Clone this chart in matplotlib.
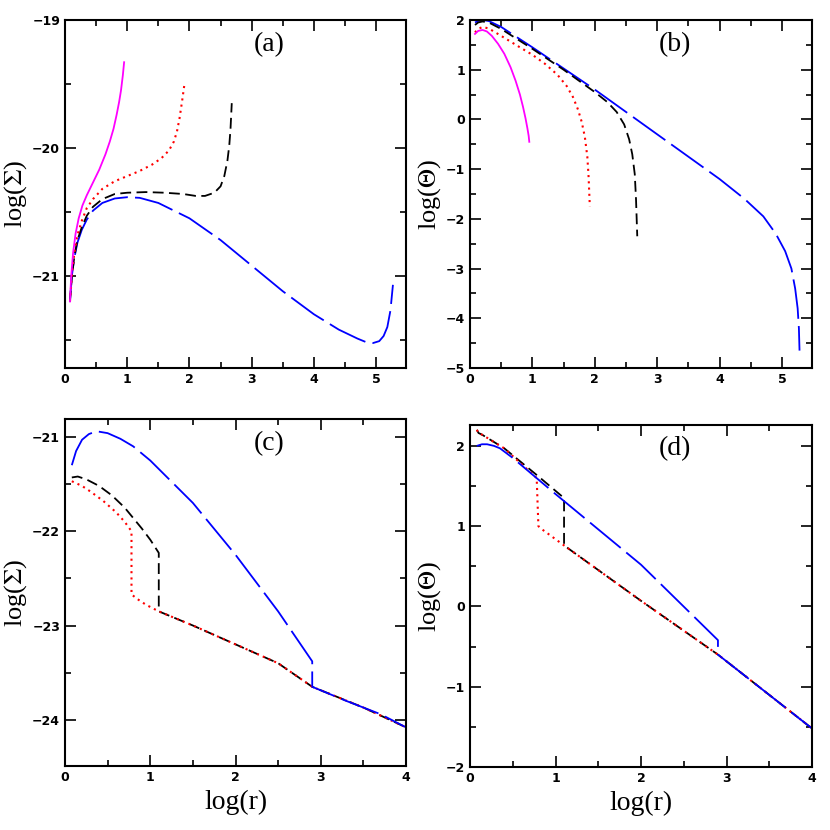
import matplotlib
matplotlib.use("Agg")
import matplotlib.pyplot as plt
from matplotlib.ticker import MultipleLocator

plt.rcParams["mathtext.fontset"] = "stix"

# Panel (a)
a_mag_x = [0.08,0.1,0.13,0.17,0.22,0.28,0.35,0.45,0.55,0.65,0.72,0.78,0.83,0.87,0.9,0.93,0.95]
a_mag_y = [-21.2,-21.0,-20.82,-20.67,-20.55,-20.45,-20.37,-20.27,-20.17,-20.05,-19.95,-19.85,-19.74,-19.64,-19.55,-19.43,-19.33]
a_red_x = [0.08,0.11,0.15,0.2,0.27,0.35,0.45,0.6,0.8,1.0,1.2,1.4,1.55,1.67,1.75,1.8,1.84,1.88,1.92]
a_red_y = [-21.2,-21.0,-20.82,-20.68,-20.57,-20.47,-20.4,-20.32,-20.26,-20.22,-20.18,-20.13,-20.08,-20.02,-19.95,-19.87,-19.77,-19.64,-19.5]
a_blk_x = [0.08,0.11,0.15,0.2,0.27,0.35,0.45,0.6,0.8,1.0,1.3,1.6,1.9,2.1,2.25,2.4,2.5,2.56,2.61,2.64,2.66,2.68]
a_blk_y = [-21.2,-21.0,-20.85,-20.72,-20.62,-20.53,-20.46,-20.4,-20.36,-20.35,-20.345,-20.35,-20.36,-20.375,-20.375,-20.35,-20.3,-20.22,-20.1,-19.98,-19.85,-19.65]
a_blu_x = [0.08,0.11,0.15,0.2,0.27,0.35,0.45,0.6,0.8,1.0,1.2,1.5,2,2.5,3,3.5,4,4.4,4.7,4.85,4.95,5.05,5.12,5.18,5.23,5.27]
a_blu_y = [-21.2,-21.0,-20.86,-20.74,-20.64,-20.56,-20.49,-20.43,-20.395,-20.385,-20.39,-20.43,-20.55,-20.72,-20.92,-21.12,-21.3,-21.42,-21.49,-21.52,-21.525,-21.51,-21.47,-21.4,-21.27,-21.07]

# Panel (b)
b_mag_x = [0.08,0.13,0.2,0.27,0.35,0.45,0.55,0.65,0.73,0.8,0.85,0.89,0.92,0.94,0.95]
b_mag_y = [1.72,1.78,1.8,1.77,1.68,1.52,1.32,1.05,0.78,0.5,0.25,0.02,-0.18,-0.33,-0.45]
b_red_x = [0.08,0.13,0.2,0.3,0.5,0.8,1.0,1.2,1.4,1.55,1.65,1.73,1.79,1.84,1.88,1.9,1.92]
b_red_y = [1.75,1.82,1.86,1.83,1.68,1.45,1.3,1.12,0.9,0.67,0.45,0.2,-0.05,-0.35,-0.75,-1.15,-1.75]
b_blk_x = [0.08,0.13,0.2,0.3,0.5,1.0,1.5,2.0,2.2,2.35,2.47,2.55,2.6,2.64,2.66,2.68]
b_blk_y = [1.9,1.95,1.97,1.95,1.82,1.42,1.0,0.55,0.35,0.15,-0.1,-0.4,-0.7,-1.1,-1.6,-2.35]
b_blu_x = [0.08,0.13,0.2,0.3,0.5,1,2,3,4,4.4,4.7,4.9,5.05,5.15,5.21,5.25,5.27,5.28]
b_blu_y = [1.95,1.98,2.0,1.98,1.86,1.45,0.6,-0.3,-1.2,-1.6,-1.95,-2.3,-2.65,-3.0,-3.4,-3.8,-4.2,-4.65]

# Panel (c)
c_blu_x = [0.08,0.13,0.2,0.28,0.37,0.5,0.65,0.8,1.0,1.5,2,2.5,2.9,2.9,3.3,3.7,4.0]
c_blu_y = [-21.3,-21.15,-21.03,-20.97,-20.94,-20.96,-21.02,-21.1,-21.25,-21.7,-22.25,-22.85,-23.38,-23.65,-23.8,-23.94,-24.08]
c_blk_x = [0.08,0.15,0.25,0.4,0.55,0.7,0.8,0.9,1.0,1.1,1.1,1.5,2,2.5,2.9,3.5,4.0]
c_blk_y = [-21.43,-21.42,-21.45,-21.52,-21.62,-21.75,-21.86,-21.97,-22.09,-22.23,-22.85,-23.0,-23.2,-23.4,-23.65,-23.87,-24.08]
c_red_x = [0.08,0.2,0.3,0.45,0.6,0.7,0.78,0.78,0.85,0.95,1.1,1.5,2,2.5,2.9,3.5,4.0]
c_red_y = [-21.47,-21.52,-21.58,-21.68,-21.8,-21.9,-22.0,-22.67,-22.72,-22.78,-22.85,-23.0,-23.2,-23.4,-23.65,-23.87,-24.08]

# Panel (d)
d_blu_x = [0.08,0.14,0.2,0.28,0.35,0.5,1,2,2.9,2.9,4.0]
d_blu_y = [2.0,2.02,2.02,2.0,1.97,1.85,1.4,0.52,-0.42,-0.6,-1.52]
d_blk_x = [0.08,0.1,0.14,0.4,0.8,1.1,1.1,2,2.9,4.0]
d_blk_y = [2.2,2.16,2.14,1.97,1.62,1.35,0.76,0.07,-0.6,-1.52]
d_red_x = [0.08,0.1,0.14,0.4,0.78,0.8,0.83,1.1,2,2.9,4.0]
d_red_y = [2.2,2.16,2.14,1.97,1.6,1.0,0.97,0.76,0.07,-0.6,-1.52]

fig = plt.figure(figsize=(8.3, 8.3), dpi=100)
W, H = 830.0, 830.0
def mk(l, r, t, b):
    return fig.add_axes([l/W, 1-b/H, (r-l)/W, (b-t)/H])
axa = mk(65, 406, 20, 368)
axb = mk(470, 812, 20, 368)
axc = mk(65, 406, 419, 766)
axd = mk(470, 812, 425, 767)

serif = "Liberation Serif"
mag_kw = dict(color="#ff00ff", lw=1.3, ls="-")
red_kw = dict(color="red", lw=1.5, ls=(0, (1, 2)))
blk_kw = dict(color="black", lw=1.3, ls=(0, (6, 3)))
blu_kw = dict(color="blue", lw=1.3, ls=(0, (22, 4)))

axa.plot(a_blu_x, a_blu_y, **blu_kw)
axa.plot(a_blk_x, a_blk_y, **blk_kw)
axa.plot(a_red_x, a_red_y, **red_kw)
axa.plot(a_mag_x, a_mag_y, **mag_kw)
axb.plot(b_blu_x, b_blu_y, **blu_kw)
axb.plot(b_blk_x, b_blk_y, **blk_kw)
axb.plot(b_red_x, b_red_y, **red_kw)
axb.plot(b_mag_x, b_mag_y, **mag_kw)
axc.plot(c_blk_x, c_blk_y, **blk_kw)
axc.plot(c_red_x, c_red_y, **red_kw)
axc.plot(c_blu_x, c_blu_y, **blu_kw)
axd.plot(d_blk_x, d_blk_y, **blk_kw)
axd.plot(d_red_x, d_red_y, **red_kw)
axd.plot(d_blu_x, d_blu_y, **blu_kw)

axa.set_xlim(0, 5.48); axa.set_ylim(-21.72, -19)
axb.set_xlim(0, 5.48); axb.set_ylim(-5, 2)
axc.set_xlim(0, 4); axc.set_ylim(-24.49, -20.81)
axd.set_xlim(0, 4); axd.set_ylim(-2, 2.26)

for ax, lab in [(axa, "(a)"), (axb, "(b)"), (axc, "(c)"), (axd, "(d)")]:
    ax.text(0.6, 0.93, lab, transform=ax.transAxes, ha="center", va="center",
            fontsize=20, family=serif)
    ax.tick_params(which="both", direction="in", top=True, right=True,
                   labelsize=9, width=1.2)
    ax.tick_params(which="major", length=8)
    ax.tick_params(which="minor", length=4)
    for s in ax.spines.values():
        s.set_linewidth(1.5)
    ax.xaxis.set_major_locator(MultipleLocator(1))
    ax.xaxis.set_minor_locator(MultipleLocator(0.5))
    ax.yaxis.set_major_locator(MultipleLocator(1))
    ax.yaxis.set_minor_locator(MultipleLocator(0.5))
    for lbl in ax.get_xticklabels() + ax.get_yticklabels():
        lbl.set_fontweight("bold")

for ax in (axa, axc):
    ax.set_ylabel(r"log($\Sigma$)", fontsize=19, family=serif, labelpad=2)
for ax in (axb, axd):
    ax.set_ylabel(r"log($\Theta$)", fontsize=19, family=serif, labelpad=2)
axc.set_xlabel("log(r)", fontsize=20, family=serif)
axd.set_xlabel("log(r)", fontsize=20, family=serif)

fig.savefig("out.png", dpi=100)
